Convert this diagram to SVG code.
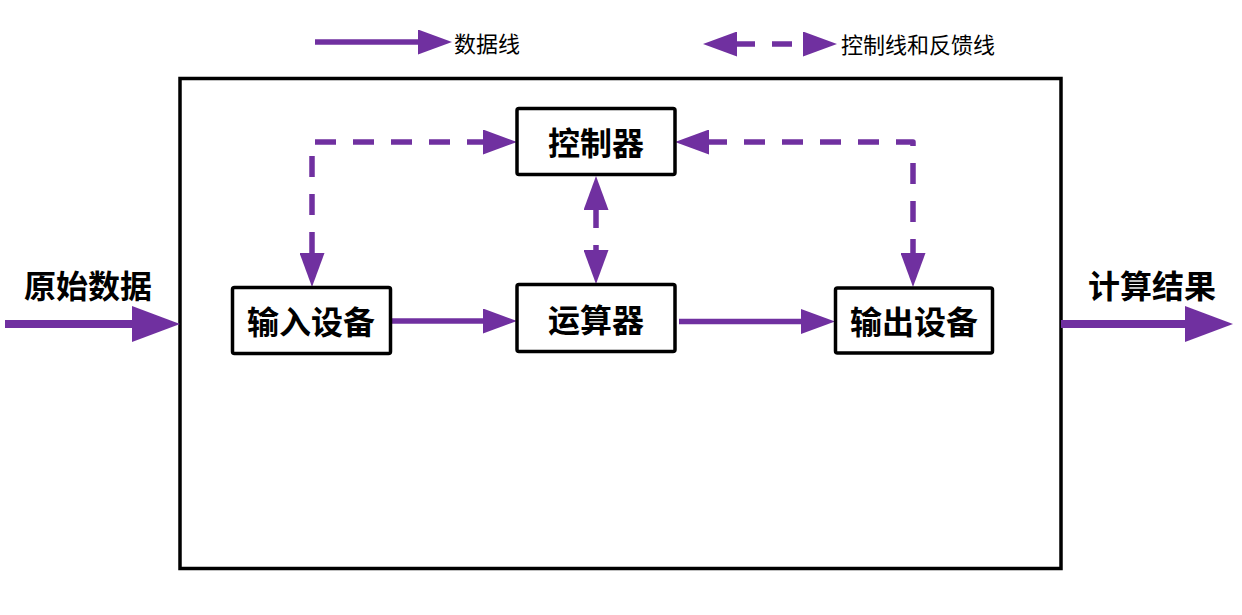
<svg xmlns="http://www.w3.org/2000/svg" width="1242" height="615" viewBox="0 0 1242 615">
<style>
.box{fill:#fff;stroke:#000;stroke-width:3.5}
.frame{fill:none;stroke:#000;stroke-width:3.5}
.lbl{font-family:"Noto Sans CJK SC","Noto Sans",sans-serif;font-weight:bold;font-size:32px;fill:#000;text-anchor:middle;dominant-baseline:central}
.leg{font-family:"Noto Sans CJK SC","Noto Sans",sans-serif;font-size:22px;fill:#000;dominant-baseline:central}
.ln{fill:none;stroke:#7030A0;stroke-width:5.5}
.dash{stroke-dasharray:21 17;stroke-linejoin:round}
.big{fill:none;stroke:#7030A0;stroke-width:8}
</style>
<defs>
<marker id="ah" markerUnits="userSpaceOnUse" viewBox="0 0 34 25" markerWidth="34" markerHeight="25" refX="0" refY="12.5" orient="auto-start-reverse">
<path d="M0,0 L34,12.5 L0,25 Z" fill="#7030A0"/>
</marker>
<marker id="ahb" markerUnits="userSpaceOnUse" viewBox="0 0 48 36" markerWidth="48" markerHeight="36" refX="0" refY="18" orient="auto">
<path d="M0,0 L48,18 L0,36 Z" fill="#7030A0"/>
</marker>
</defs>
<g id="frame"><rect class="frame" x="180" y="78.5" width="881" height="490"/></g>
<g id="legend">
<path class="ln" d="M315,42 L418,42" marker-end="url(#ah)"/>
<text class="leg" x="454" y="42">数据线</text>
<path class="ln" d="M737,44 L803,44" stroke-dasharray="18 17 20 20" marker-start="url(#ah)" marker-end="url(#ah)"/>
<text class="leg" x="841" y="43">控制线和反馈线</text>
</g>
<g id="connectors">
<path class="big" d="M5,324 L132,324" marker-end="url(#ahb)"/>
<path class="big" d="M1061,324 L1185,324" marker-end="url(#ahb)"/>
<path class="ln" d="M390,321 L483,321" marker-end="url(#ah)"/>
<path class="ln" d="M679,321.5 L801,321.5" marker-end="url(#ah)"/>
<path class="ln dash" d="M312,253 L312,142 L483,142" marker-start="url(#ah)" marker-end="url(#ah)"/>
<path class="ln dash" d="M709,142 L913,142 L913,253" stroke-dashoffset="3" marker-start="url(#ah)" marker-end="url(#ah)"/>
<path class="ln" d="M596,210 L596,250" stroke-dasharray="18 17" marker-start="url(#ah)" marker-end="url(#ah)"/>
</g>
<g id="controller"><rect class="box" x="517" y="108.5" width="158" height="66" rx="2"/><text class="lbl" x="596" y="141">控制器</text></g>
<g id="alu"><rect class="box" x="517" y="284.5" width="158" height="67" rx="2"/><text class="lbl" x="596" y="318">运算器</text></g>
<g id="input"><rect class="box" x="232.5" y="287.5" width="158" height="66" rx="2"/><text class="lbl" x="311" y="320">输入设备</text></g>
<g id="output"><rect class="box" x="835.5" y="288" width="157" height="65" rx="2"/><text class="lbl" x="914" y="320">输出设备</text></g>
<g id="labels">
<text class="lbl" x="88" y="284">原始数据</text>
<text class="lbl" x="1152" y="284">计算结果</text>
</g>
</svg>
